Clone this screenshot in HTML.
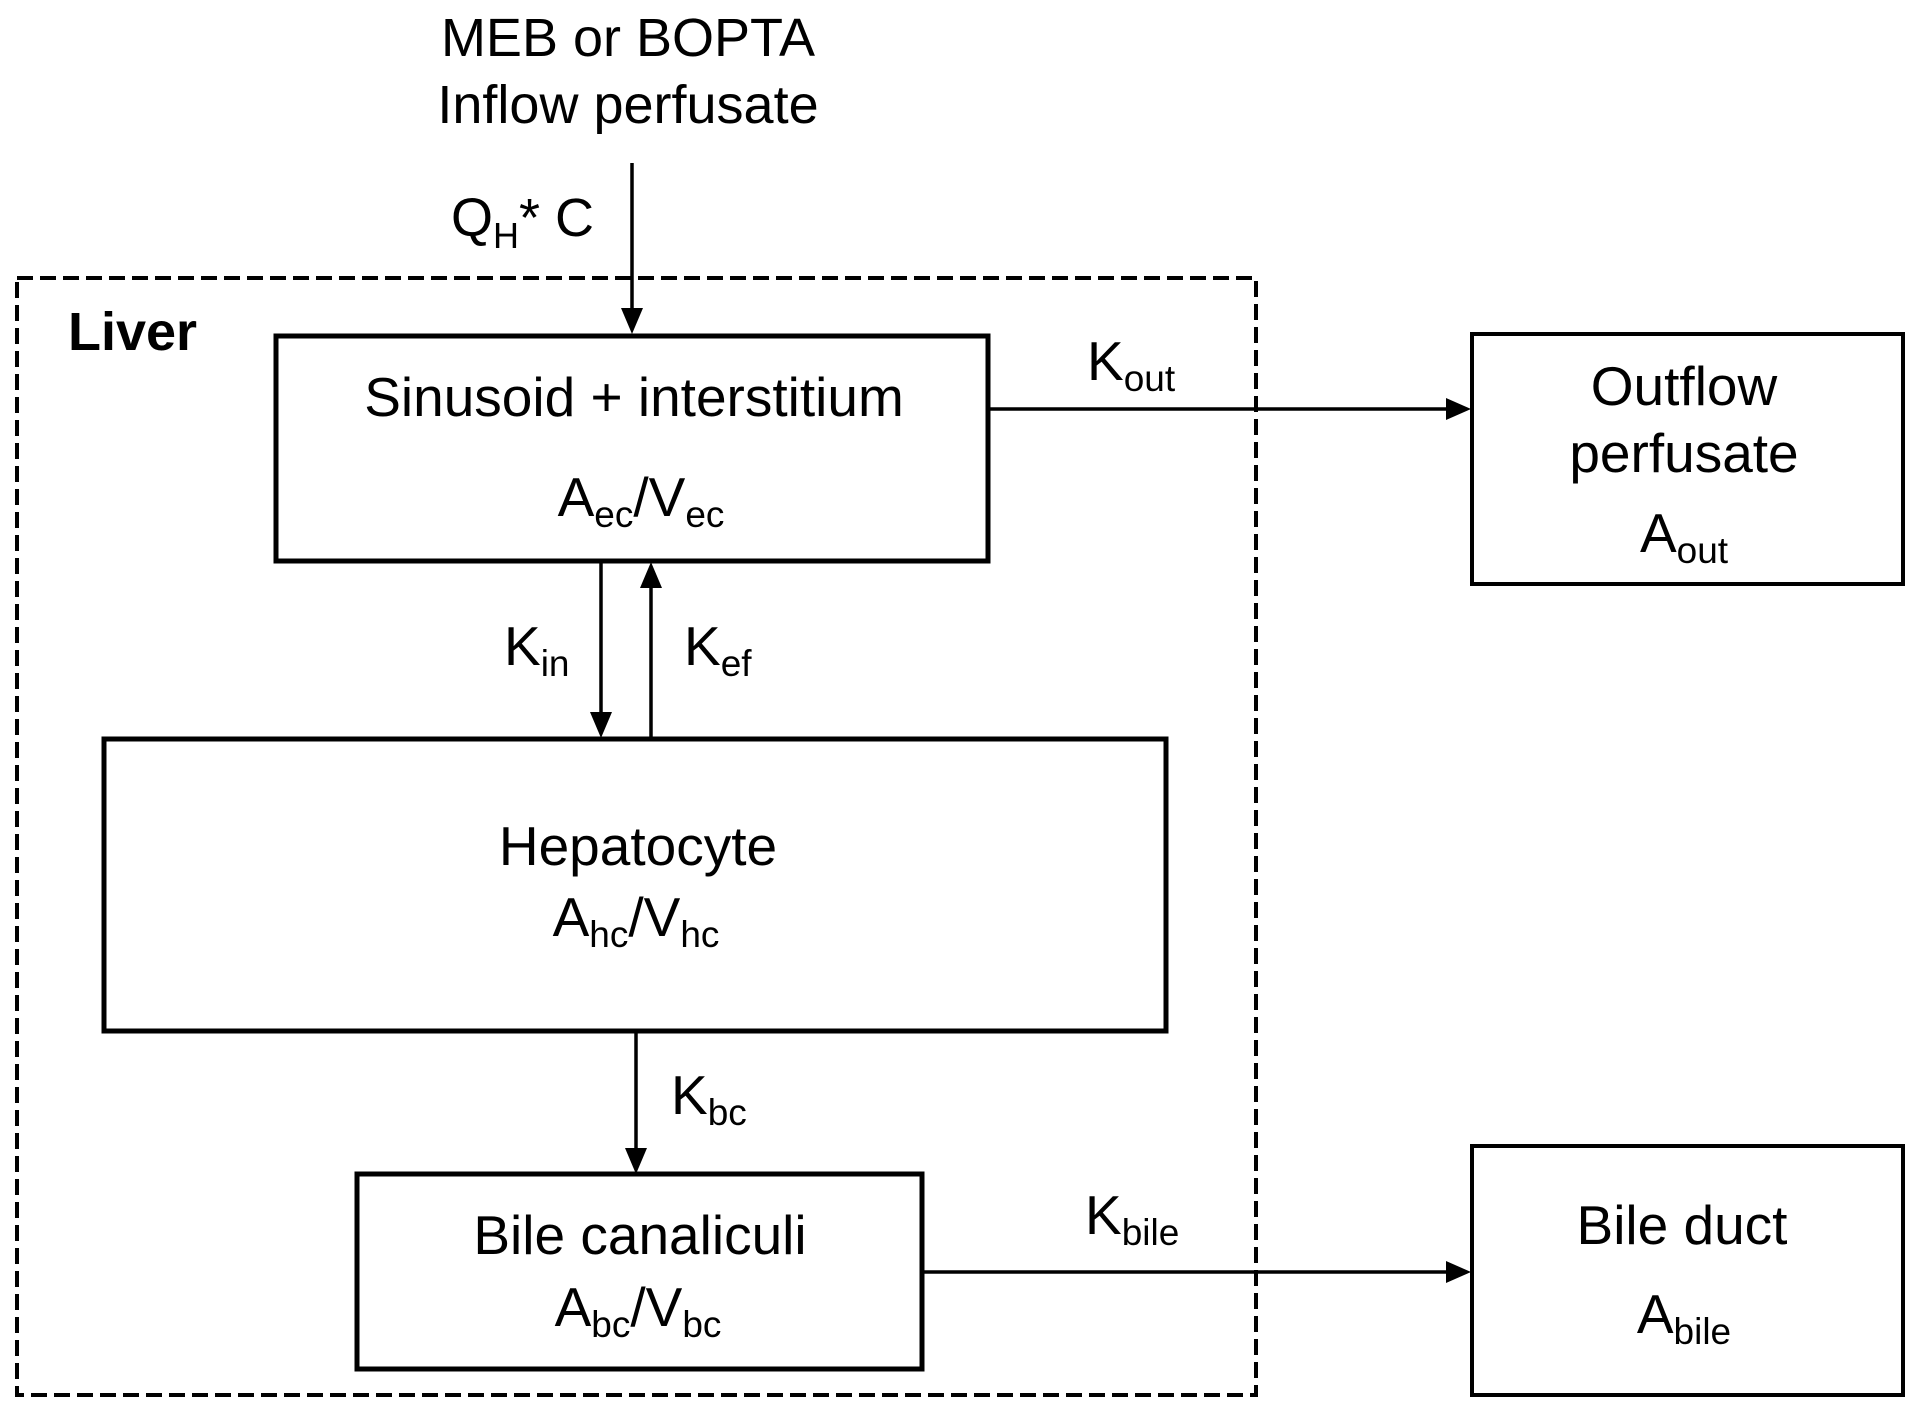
<!DOCTYPE html>
<html><head><meta charset="utf-8"><style>
html,body{margin:0;padding:0;background:#fff}
svg{display:block}
text{font-family:"Liberation Sans",Arial,sans-serif;fill:#000}
</style></head><body>
<svg width="1920" height="1414" viewBox="0 0 1920 1414" xmlns="http://www.w3.org/2000/svg">
<g font-size="54" text-anchor="middle">
<text x="628" y="56">MEB or BOPTA</text>
<text x="628" y="123">Inflow perfusate</text>
</g>
<line x1="632" y1="163" x2="632" y2="310" stroke="#000" stroke-width="3.5"/>
<polygon points="621,308 643,308 632,334" fill="#000"/>
<text x="451" y="236" font-size="54">Q<tspan font-size="36" dy="12">H</tspan><tspan dy="-12">* C</tspan></text>
<rect x="17" y="278" width="1239" height="1117" fill="none" stroke="#000" stroke-width="4" stroke-dasharray="16,7"/>
<text x="68" y="350" font-size="54" font-weight="bold">Liver</text>
<rect x="276" y="336" width="712" height="225" fill="none" stroke="#000" stroke-width="5"/>
<text x="634" y="416" font-size="55" text-anchor="middle">Sinusoid + interstitium</text>
<text x="641" y="516" font-size="55" text-anchor="middle">A<tspan font-size="37" dy="11">ec</tspan><tspan dy="-11">/V</tspan><tspan font-size="37" dy="11">ec</tspan></text>
<line x1="990" y1="409" x2="1448" y2="409" stroke="#000" stroke-width="3.5"/>
<polygon points="1446,398 1446,420 1471,409" fill="#000"/>
<text x="1087" y="380" font-size="55">K<tspan font-size="37" dy="11">out</tspan></text>
<rect x="1472" y="334" width="431" height="250" fill="none" stroke="#000" stroke-width="4"/>
<g font-size="55" text-anchor="middle">
<text x="1684" y="405">Outflow</text>
<text x="1684" y="472">perfusate</text>
<text x="1684" y="552">A<tspan font-size="37" dy="11">out</tspan></text>
</g>
<line x1="601" y1="563" x2="601" y2="714" stroke="#000" stroke-width="3.5"/>
<polygon points="590,712 612,712 601,738" fill="#000"/>
<line x1="651" y1="738" x2="651" y2="586" stroke="#000" stroke-width="3.5"/>
<polygon points="640,588 662,588 651,562" fill="#000"/>
<text x="504" y="665" font-size="55">K<tspan font-size="37" dy="11">in</tspan></text>
<text x="684" y="665" font-size="55">K<tspan font-size="37" dy="11">ef</tspan></text>
<rect x="104" y="739" width="1062" height="292" fill="none" stroke="#000" stroke-width="5"/>
<text x="638" y="865" font-size="55" text-anchor="middle">Hepatocyte</text>
<text x="636" y="936" font-size="55" text-anchor="middle">A<tspan font-size="37" dy="11">hc</tspan><tspan dy="-11">/V</tspan><tspan font-size="37" dy="11">hc</tspan></text>
<line x1="636" y1="1032" x2="636" y2="1150" stroke="#000" stroke-width="3.5"/>
<polygon points="625,1148 647,1148 636,1174" fill="#000"/>
<text x="671" y="1114" font-size="55">K<tspan font-size="37" dy="11">bc</tspan></text>
<rect x="357" y="1174" width="565" height="195" fill="none" stroke="#000" stroke-width="5"/>
<text x="640" y="1254" font-size="55" text-anchor="middle">Bile canaliculi</text>
<text x="638" y="1326" font-size="55" text-anchor="middle">A<tspan font-size="37" dy="11">bc</tspan><tspan dy="-11">/V</tspan><tspan font-size="37" dy="11">bc</tspan></text>
<line x1="923" y1="1272" x2="1448" y2="1272" stroke="#000" stroke-width="3.5"/>
<polygon points="1446,1261 1446,1283 1471,1272" fill="#000"/>
<text x="1085" y="1234" font-size="55">K<tspan font-size="37" dy="11">bile</tspan></text>
<rect x="1472" y="1146" width="431" height="249" fill="none" stroke="#000" stroke-width="4"/>
<text x="1682" y="1244" font-size="55" text-anchor="middle">Bile duct</text>
<text x="1684" y="1333" font-size="55" text-anchor="middle">A<tspan font-size="37" dy="11">bile</tspan></text>
</svg>
</body></html>
